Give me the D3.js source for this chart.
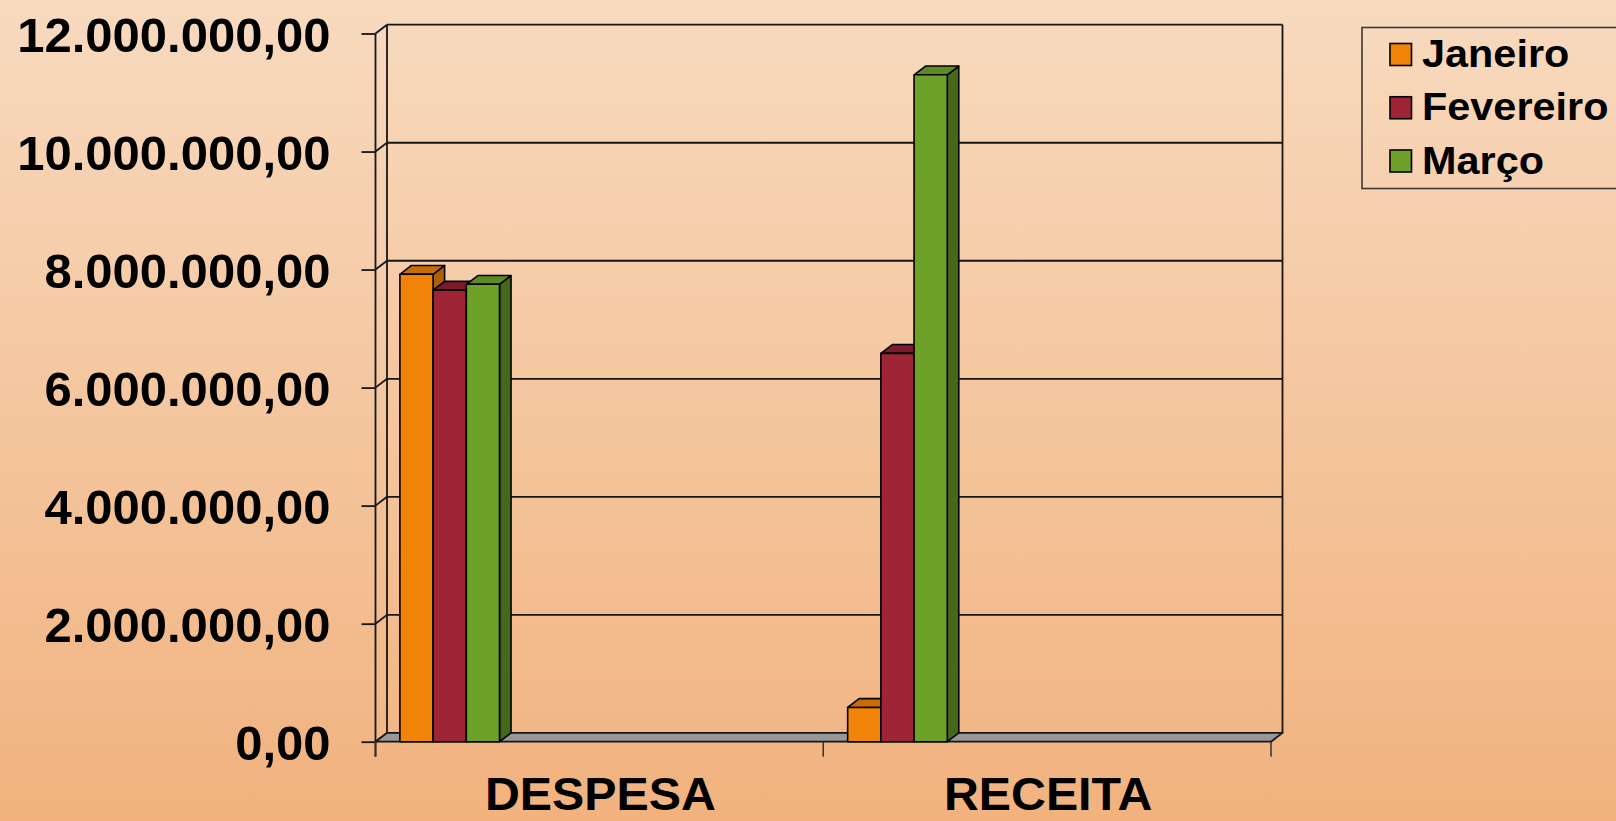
<!DOCTYPE html>
<html>
<head>
<meta charset="utf-8">
<script src="https://cdn.jsdelivr.net/npm/d3@7"></script>
<style>
html,body{margin:0;padding:0;overflow:hidden;}
svg{display:block;}
text{font-family:"Liberation Sans",Arial,sans-serif;font-weight:bold;fill:#000;}
</style>
</head>
<body>
<svg id="chart" width="1616" height="821"></svg>
<script>
const categories = ["DESPESA", "RECEITA"];
const seriesNames = ["Janeiro", "Fevereiro", "Março"];
const janeiro   = [7920000, 580000];
const fevereiro = [7650000, 6580000];
const marco     = [7750000, 11300000];
const seriesValues = [janeiro, fevereiro, marco];
const yTicks = [0, 2000000, 4000000, 6000000, 8000000, 10000000, 12000000];

const frontColors = ["#F18308", "#9E2536", "#6EA127"];
const topColors   = ["#C86C06", "#7C1C2A", "#5B8A22"];
const sideColors  = ["#B05E02", "#6A1623", "#46681B"];

const W = 1616, H = 821;
const svg = d3.select("#chart");

const defs = svg.append("defs");
const grad = defs.append("linearGradient").attr("id","bg").attr("x1",0).attr("y1",0).attr("x2",0).attr("y2",1);
grad.append("stop").attr("offset","0%").attr("stop-color","#F8DABF");
grad.append("stop").attr("offset","100%").attr("stop-color","#F1B27E");
svg.append("rect").attr("width",W).attr("height",H).attr("fill","url(#bg)");

const plotLeft = 375.5, plotRight = 1271, baseY = 741.7, topY = 33.5;
const dx = 11.5, dy = -8.8;

const y = d3.scaleLinear().domain([0, 12000000]).range([baseY, topY]);
const x = d3.scaleBand().domain(categories).range([plotLeft, plotRight]).paddingInner(0).paddingOuter(0);
const bw = x.bandwidth();
const xs = d3.scaleBand().domain(seriesNames).range([bw*0.0545, bw*0.0545 + bw*0.2225]).padding(0);

const loc = d3.formatLocale({decimal: ",", thousands: ".", grouping: [3], currency: ["", ""]});
const fmt = loc.format(",.2f");

const lineColor = "#161616";
const lw = 1.8;

const g = svg.append("g");
g.selectAll("line.grid").data(yTicks.filter(d=>d>0)).join("line")
  .attr("x1", plotLeft+dx).attr("x2", plotRight+dx)
  .attr("y1", d=>y(d)+dy).attr("y2", d=>y(d)+dy)
  .attr("stroke", lineColor).attr("stroke-width", lw);
g.append("line").attr("x1",plotLeft+dx).attr("x2",plotLeft+dx).attr("y1",y(12000000)+dy).attr("y2",baseY+dy)
  .attr("stroke",lineColor).attr("stroke-width",lw);
g.append("line").attr("x1",plotRight+dx).attr("x2",plotRight+dx).attr("y1",y(12000000)+dy).attr("y2",baseY+dy)
  .attr("stroke",lineColor).attr("stroke-width",lw);
g.selectAll("line.conn").data(yTicks).join("line")
  .attr("x1", plotLeft).attr("x2", plotLeft+dx)
  .attr("y1", d=>y(d)).attr("y2", d=>y(d)+dy)
  .attr("stroke", lineColor).attr("stroke-width", lw);

g.append("path")
  .attr("d", `M${plotLeft},${baseY}L${plotRight},${baseY}L${plotRight+dx},${baseY+dy}L${plotLeft+dx},${baseY+dy}Z`)
  .attr("fill","#979797").attr("stroke",lineColor).attr("stroke-width",lw).attr("stroke-linejoin","round");

const yAxis = d3.axisLeft(y).tickValues(yTicks).tickSize(14).tickFormat(fmt);
const ya = svg.append("g").attr("transform", `translate(${plotLeft},0)`).call(yAxis);
ya.select(".domain").remove();
ya.selectAll(".tick line").attr("stroke", lineColor).attr("stroke-width", lw);
ya.selectAll(".tick text").attr("x", -45).attr("dy", "0.36em")
  .style("font-size","49px").style("font-family","'Liberation Sans',Arial,sans-serif").style("font-weight","bold").attr("fill","#000");
svg.append("line").attr("x1",plotLeft).attr("x2",plotLeft).attr("y1",y(12000000)).attr("y2",baseY+15)
  .attr("stroke",lineColor).attr("stroke-width",lw);

const xb = categories.map(c=>x(c)).concat([plotRight]);
svg.selectAll("line.xt").data(xb).join("line")
  .attr("x1",d=>d).attr("x2",d=>d).attr("y1",baseY).attr("y2",baseY+15)
  .attr("stroke","#333").attr("stroke-width",1.5);

const bars = svg.append("g");
categories.forEach((c, ci) => {
  seriesNames.forEach((s, si) => {
    const v = seriesValues[si][ci];
    const x0 = x(c) + xs(s), x1 = x0 + xs.bandwidth();
    const yt = y(v), yb = y(0);
    const gg = bars.append("g").attr("stroke","#000").attr("stroke-width",1.6).attr("stroke-linejoin","round");
    gg.append("path").attr("d", `M${x1},${yb}L${x1+dx},${yb+dy}L${x1+dx},${yt+dy}L${x1},${yt}Z`).attr("fill", sideColors[si]);
    gg.append("path").attr("d", `M${x0},${yt}L${x0+dx},${yt+dy}L${x1+dx},${yt+dy}L${x1},${yt}Z`).attr("fill", topColors[si]);
    gg.append("rect").attr("x", x0).attr("y", yt).attr("width", x1-x0).attr("height", yb-yt).attr("fill", frontColors[si]);
  });
});

svg.selectAll("text.cat").data(categories).join("text")
  .attr("class","cat")
  .attr("transform", d=>`translate(${x(d)+bw/2+1},810) scale(1.05,1)`)
  .attr("text-anchor","middle")
  .style("font-size","46px")
  .text(d=>d);

const leg = svg.append("g");
leg.append("rect").attr("x",1362).attr("y",27.5).attr("width",300).attr("height",161)
  .attr("fill","none").attr("stroke","#3a3a3a").attr("stroke-width",1.6);
const ly = d3.scalePoint().domain(seriesNames).range([54.5, 161]);
seriesNames.forEach((s, si) => {
  leg.append("rect").attr("x",1390).attr("y",ly(s)-11).attr("width",21.5).attr("height",22)
    .attr("fill",frontColors[si]).attr("stroke","#000").attr("stroke-width",1.6);
  leg.append("text").attr("transform",`translate(1422,${ly(s)+12.5}) scale(1.09,1)`)
    .style("font-size","38px").text(s);
});
</script>
</body>
</html>
